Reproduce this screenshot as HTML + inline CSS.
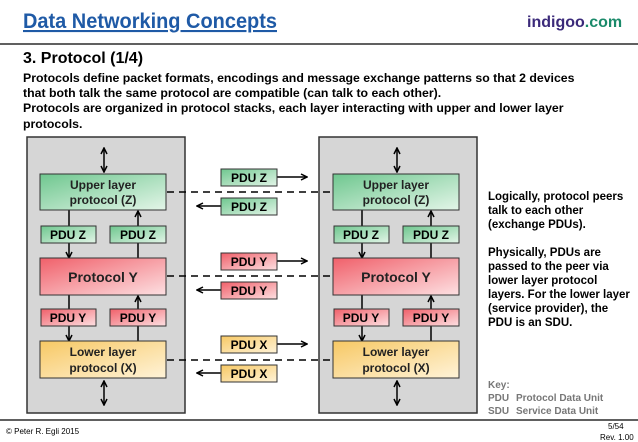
<!DOCTYPE html><html><head><style>body{margin:0;background:#fff}svg{display:block}text{font-family:"Liberation Sans",sans-serif}</style></head><body>
<svg width="638" height="442" viewBox="0 0 638 442" xmlns="http://www.w3.org/2000/svg">
<defs>
<linearGradient id="g" x1="0" y1="0" x2="1" y2="1"><stop offset="0" stop-color="#6fc78f"/><stop offset="1" stop-color="#e3f5e8"/></linearGradient>
<linearGradient id="r" x1="0" y1="0" x2="1" y2="1"><stop offset="0" stop-color="#f0606a"/><stop offset="1" stop-color="#fde0e2"/></linearGradient>
<linearGradient id="y" x1="0" y1="0" x2="1" y2="1"><stop offset="0" stop-color="#f7c864"/><stop offset="1" stop-color="#fff3d8"/></linearGradient>
<marker id="a" markerWidth="8" markerHeight="8" refX="7" refY="4" orient="auto-start-reverse" markerUnits="userSpaceOnUse"><path d="M1,1 L7,4 L1,7" fill="none" stroke="#000" stroke-width="1.5"/></marker>
</defs>
<text x="23" y="28" font-size="21" font-weight="bold" fill="#1f5aa6" text-decoration="underline" textLength="254" lengthAdjust="spacingAndGlyphs">Data Networking Concepts</text>
<text x="527" y="27" font-size="16" font-weight="bold" fill="#3b2a7a">indigoo<tspan fill="#1a8a6a">.com</tspan></text>
<line x1="0" y1="44" x2="638" y2="44" stroke="#000" stroke-width="1.2"/>
<text x="23" y="63" font-size="16" font-weight="bold">3. Protocol (1/4)</text>
<g font-size="12.3" font-weight="bold">
<text x="23" y="82">Protocols define packet formats, encodings and message exchange patterns so that 2 devices</text>
<text x="23" y="97">that both talk the same protocol are compatible (can talk to each other).</text>
<text x="23" y="112">Protocols are organized in protocol stacks, each layer interacting with upper and lower layer</text>
<text x="23" y="128">protocols.</text>
</g>
<rect x="27" y="137" width="158" height="276" fill="#d6d6d6" stroke="#333" stroke-width="1.5"/>
<rect x="319" y="137" width="158" height="276" fill="#d6d6d6" stroke="#333" stroke-width="1.5"/>
<g stroke="#000" stroke-width="1.5" stroke-dasharray="7,5">
<line x1="167" y1="192" x2="333" y2="192"/><line x1="167" y1="276" x2="333" y2="276"/><line x1="167" y1="360" x2="333" y2="360"/></g>
<g id="s">
<g stroke="#000" stroke-width="1.5" fill="none">
<line x1="104" y1="148" x2="104" y2="172" marker-start="url(#a)" marker-end="url(#a)"/>
<line x1="104" y1="381" x2="104" y2="405" marker-start="url(#a)" marker-end="url(#a)"/>
<line x1="69" y1="210" x2="69" y2="258" marker-end="url(#a)"/>
<line x1="138" y1="258" x2="138" y2="211" marker-end="url(#a)"/>
<line x1="69" y1="295" x2="69" y2="341" marker-end="url(#a)"/>
<line x1="138" y1="341" x2="138" y2="296" marker-end="url(#a)"/>
</g>
<rect x="40" y="174" width="126" height="36" fill="url(#g)" stroke="#333"/>
<text x="103" y="189" font-size="12" font-weight="bold" text-anchor="middle" fill="#222">Upper layer</text>
<text x="103" y="204" font-size="12" font-weight="bold" text-anchor="middle" fill="#222">protocol (Z)</text>
<rect x="41" y="226" width="55" height="17" fill="url(#g)" stroke="#333"/><text x="68" y="239" font-size="12" font-weight="bold" text-anchor="middle">PDU Z</text>
<rect x="110" y="226" width="56" height="17" fill="url(#g)" stroke="#333"/><text x="138" y="239" font-size="12" font-weight="bold" text-anchor="middle">PDU Z</text>
<rect x="40" y="258" width="126" height="37" fill="url(#r)" stroke="#333"/>
<text x="103" y="282" font-size="14" font-weight="bold" text-anchor="middle" fill="#222">Protocol Y</text>
<rect x="41" y="309" width="55" height="17" fill="url(#r)" stroke="#333"/><text x="68" y="322" font-size="12" font-weight="bold" text-anchor="middle">PDU Y</text>
<rect x="110" y="309" width="56" height="17" fill="url(#r)" stroke="#333"/><text x="138" y="322" font-size="12" font-weight="bold" text-anchor="middle">PDU Y</text>
<rect x="40" y="341" width="126" height="37" fill="url(#y)" stroke="#333"/>
<text x="103" y="356" font-size="12" font-weight="bold" text-anchor="middle" fill="#222">Lower layer</text>
<text x="103" y="372" font-size="12" font-weight="bold" text-anchor="middle" fill="#222">protocol (X)</text>
</g>
<use href="#s" x="293"/>
<g stroke="#000" stroke-width="1.5" fill="none">
<line x1="277" y1="177" x2="307" y2="177" marker-end="url(#a)"/><line x1="221" y1="206" x2="197" y2="206" marker-end="url(#a)"/>
<line x1="277" y1="261" x2="307" y2="261" marker-end="url(#a)"/><line x1="221" y1="290" x2="197" y2="290" marker-end="url(#a)"/>
<line x1="277" y1="344" x2="307" y2="344" marker-end="url(#a)"/><line x1="221" y1="373" x2="197" y2="373" marker-end="url(#a)"/>
</g>
<g stroke="#333">
<rect x="221" y="169" width="56" height="17" fill="url(#g)"/><rect x="221" y="198" width="56" height="17" fill="url(#g)"/>
<rect x="221" y="253" width="56" height="17" fill="url(#r)"/><rect x="221" y="282" width="56" height="17" fill="url(#r)"/>
<rect x="221" y="336" width="56" height="17" fill="url(#y)"/><rect x="221" y="365" width="56" height="17" fill="url(#y)"/>
</g>
<g font-size="12" font-weight="bold" text-anchor="middle">
<text x="249" y="182">PDU Z</text><text x="249" y="211">PDU Z</text>
<text x="249" y="266">PDU Y</text><text x="249" y="295">PDU Y</text>
<text x="249" y="349">PDU X</text><text x="249" y="378">PDU X</text>
</g>
<g font-size="11.5" font-weight="bold">
<text x="488" y="200">Logically, protocol peers</text><text x="488" y="214">talk to each other</text><text x="488" y="228">(exchange PDUs).</text>
<text x="488" y="256">Physically, PDUs are</text><text x="488" y="270">passed to the peer via</text><text x="488" y="284">lower layer protocol</text>
<text x="488" y="298">layers. For the lower layer</text><text x="488" y="312">(service provider), the</text><text x="488" y="326">PDU is an SDU.</text>
</g>
<g font-size="10" font-weight="bold" fill="#777">
<text x="488" y="388">Key:</text><text x="488" y="401">PDU</text><text x="516" y="401">Protocol Data Unit</text>
<text x="488" y="414">SDU</text><text x="516" y="414">Service Data Unit</text>
</g>
<line x1="0" y1="420" x2="638" y2="420" stroke="#000" stroke-width="1.2"/>
<text x="6" y="434" font-size="8">© Peter R. Egli 2015</text>
<text x="608" y="429" font-size="8">5/54</text>
<text x="600" y="440" font-size="8">Rev. 1.00</text>
</svg>
</body></html>
